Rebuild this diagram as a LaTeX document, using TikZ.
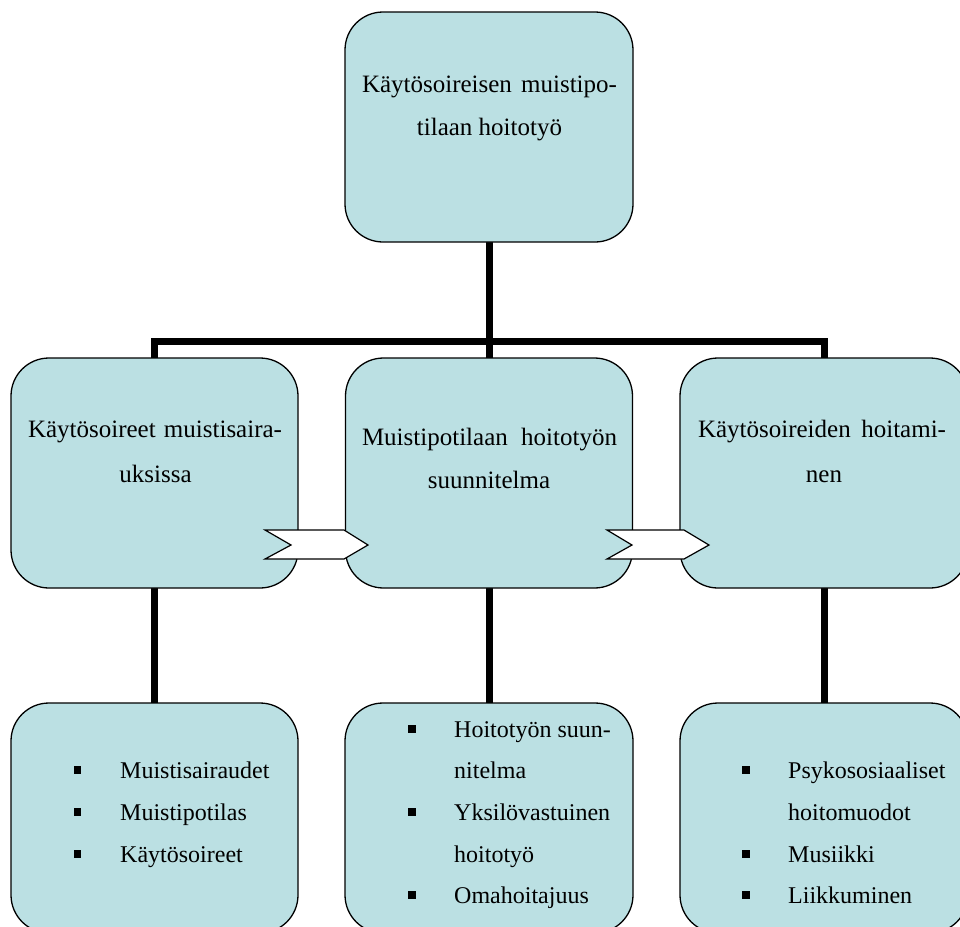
\documentclass[tikz,border=0pt]{standalone}
\usepackage{fontspec}
\setmainfont{Liberation Serif}
\usetikzlibrary{backgrounds}
\definecolor{boxfill}{RGB}{187,224,227}
\begin{document}
\begin{tikzpicture}[x=1pt,y=-1pt,
  box/.style={draw=black,line width=1.3pt,fill=boxfill,rounded corners=38pt,minimum width=288pt,minimum height=230pt,inner sep=0pt,outer sep=0pt},
  conn/.style={line width=7pt,line join=miter,draw=black},
  ctext/.style={anchor=base,inner sep=0pt,font=\fontsize{25}{30}\selectfont},
  ltext/.style={anchor=base west,inner sep=0pt,font=\fontsize{24}{29}\selectfont},
  bul/.style={fill=black,minimum size=7.5pt,inner sep=0pt,outer sep=0pt,rectangle},
  chevron/.style={draw=black,line width=1.2pt,fill=white,line join=miter}]
\useasboundingbox (0,0) rectangle (960,926);
\clip (0,0) rectangle (960,926);

% boxes
\node[box] (T) at (489,127) {};
\node[box,minimum width=287pt] (L) at (154.5,473) {};
\node[box,minimum width=287pt] (M) at (489,473) {};
\node[box] (R) at (824,473) {};
\node[box,minimum width=287pt] (LB) at (154.5,818) {};
\node[box] (MB) at (489,818) {};
\node[box] (RB) at (824,818) {};

% connectors
\begin{scope}[on background layer]
\coordinate (bar) at (489,341);
\draw[conn] (L.north) |- (bar) -| (R.north);
\draw[conn] (T.south) -- (M.north);
\draw[conn] (L.south) -- (LB.north);
\draw[conn] (M.south) -- (MB.north);
\draw[conn] (R.south) -- (RB.north);
\end{scope}

% chevrons
\draw[chevron] (265,530) -- (344,530) -- (368,545) -- (344,559) -- (265,559) -- (291,545) -- cycle;
\draw[chevron] (607,530) -- (684,530) -- (709,545) -- (684,559) -- (607,559) -- (632,545) -- cycle;

% titles
\node[ctext] (Tt1) at (489.5,92) {\makebox[255pt][s]{Käytösoireisen muistipo-}};
\node[ctext] (Tt2) at (489.5,135) {tilaan hoitotyö};
\node[ctext] (Lt1) at (155,437) {\makebox[254pt][s]{Käytösoireet muistisaira-}};
\node[ctext] (Lt2) at (155.5,482) {uksissa};
\node[ctext] (Mt1) at (489.5,445) {\makebox[255pt][s]{Muistipotilaan hoitotyön}};
\node[ctext] (Mt2) at (489,488) {suunnitelma};
\node[ctext] (Rt1) at (822,437) {\makebox[248pt][s]{Käytösoireiden hoitami-}};
\node[ctext] (Rt2) at (824,482) {nen};

% left bottom list
\node[bul] (lbb1) at (77.5,770) {};
\node[bul] (lbb2) at (77.5,812) {};
\node[bul] (lbb3) at (77.5,854) {};
\node[ltext] (lbt1) at (120,778) {Muistisairaudet};
\node[ltext] (lbt2) at (120,820) {Muistipotilas};
\node[ltext] (lbt3) at (120,862) {Käytösoireet};

% middle bottom list
\node[bul] (mbb1) at (412,729) {};
\node[bul] (mbb2) at (412,812) {};
\node[bul] (mbb3) at (412,895) {};
\node[ltext] (mbt1) at (454,737) {Hoitotyön suun-};
\node[ltext] (mbt2) at (454,778) {nitelma};
\node[ltext] (mbt3) at (454,820) {Yksilövastuinen};
\node[ltext] (mbt4) at (454,862) {hoitotyö};
\node[ltext] (mbt5) at (454,903) {Omahoitajuus};

% right bottom list
\node[bul] (rbb1) at (746,770) {};
\node[bul] (rbb2) at (746,854) {};
\node[bul] (rbb3) at (746,895) {};
\node[ltext] (rbt1) at (788,778) {Psykososiaaliset};
\node[ltext] (rbt2) at (788,820) {hoitomuodot};
\node[ltext] (rbt3) at (788,862) {Musiikki};
\node[ltext] (rbt4) at (788,903) {Liikkuminen};
\end{tikzpicture}
\end{document}
